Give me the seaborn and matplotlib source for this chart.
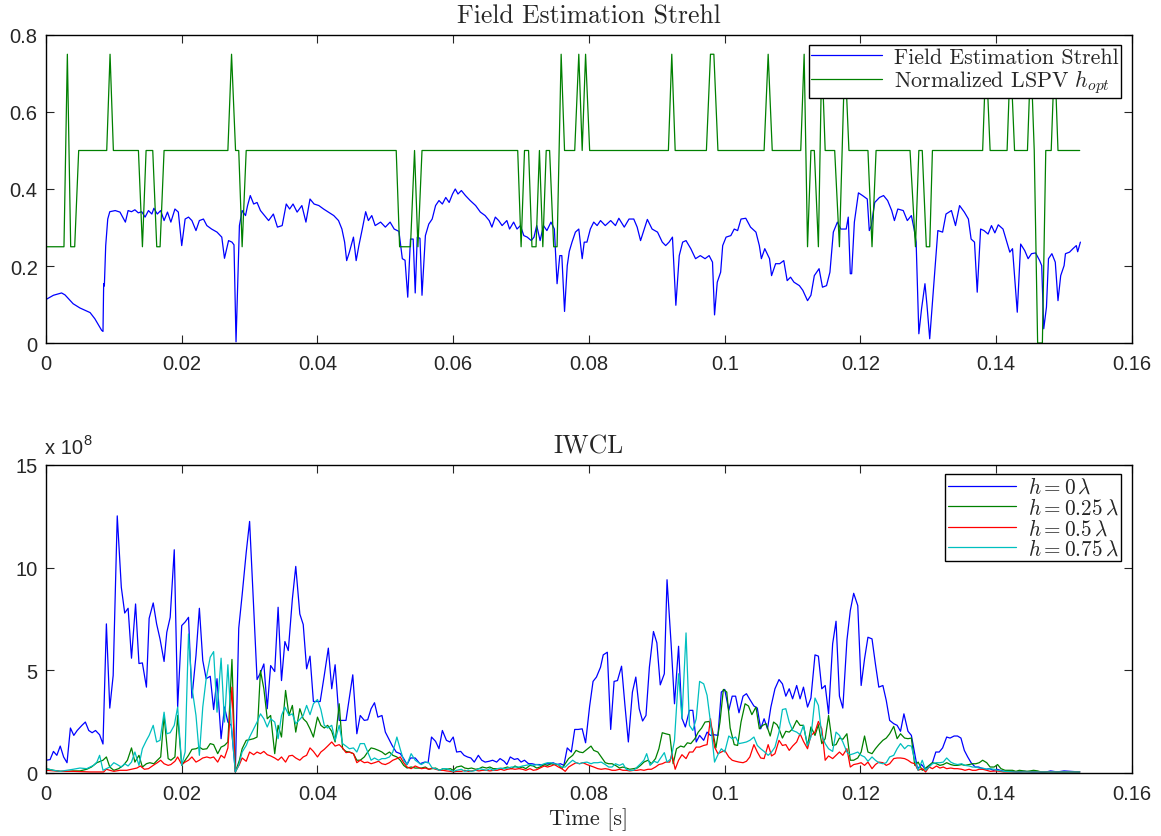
import numpy as np
import pandas as pd
import matplotlib
matplotlib.use("Agg")
import matplotlib.pyplot as plt
import seaborn as sns

# ---------------- top panel data ----------------
strehl_t = [0, 0.0011, 0.0023, 0.0028, 0.004, 0.005, 0.0065, 0.0072, 0.0082, 0.0084, 0.0085, 0.0086, 0.0088,
            0.0091, 0.0094, 0.0102, 0.0109, 0.0117, 0.0121, 0.0126, 0.0131, 0.0136, 0.0141, 0.0146, 0.0151,
            0.0156, 0.0159, 0.0164, 0.0169, 0.0174, 0.0179, 0.0184, 0.019, 0.0195, 0.02, 0.0205, 0.021, 0.0215,
            0.0221, 0.0226, 0.0232, 0.0237, 0.0244, 0.0252, 0.0259, 0.0263, 0.0269, 0.0274, 0.0277, 0.028,
            0.0285, 0.0289, 0.0294, 0.0297, 0.0301, 0.0306, 0.0311, 0.0316, 0.0322, 0.0328, 0.0335, 0.0341,
            0.0348, 0.0354, 0.0359, 0.0364, 0.037, 0.0377, 0.0383, 0.0389, 0.0395, 0.0402, 0.0409, 0.0416,
            0.0424, 0.0431, 0.0436, 0.044, 0.0443, 0.0447, 0.0453, 0.0457, 0.0461, 0.0466, 0.0471, 0.0475,
            0.048, 0.0485, 0.0493, 0.05, 0.0507, 0.0513, 0.052, 0.0525, 0.0529, 0.0533, 0.0537, 0.0541, 0.0544,
            0.0547, 0.0551, 0.0554, 0.0559, 0.0564, 0.0569, 0.0574, 0.0579, 0.0584, 0.0589, 0.0594, 0.0599,
            0.0603, 0.0607, 0.0612, 0.0618, 0.0625, 0.0633, 0.064, 0.0647, 0.0653, 0.0657, 0.0662, 0.0667,
            0.0672, 0.0679, 0.0683, 0.0689, 0.0694, 0.0699, 0.0704, 0.0709, 0.0715, 0.0719, 0.0723, 0.0728,
            0.0733, 0.0738, 0.0744, 0.0749, 0.0753, 0.0757, 0.076, 0.0764, 0.0768, 0.0771, 0.0775, 0.078,
            0.0785, 0.079, 0.0793, 0.0797, 0.0802, 0.0807, 0.0812, 0.0817, 0.0824, 0.0832, 0.0839, 0.0844,
            0.0852, 0.0859, 0.0866, 0.0871, 0.0876, 0.0886, 0.0893, 0.0901, 0.0908, 0.0913, 0.0918, 0.0923,
            0.0928, 0.0933, 0.0938, 0.0943, 0.095, 0.0957, 0.0964, 0.0971, 0.0977, 0.0982, 0.0985, 0.0989,
            0.0994, 0.0997, 0.1002, 0.1009, 0.1014, 0.1019, 0.1024, 0.1031, 0.1038, 0.1046, 0.1051, 0.1054,
            0.1059, 0.1066, 0.1069, 0.1075, 0.1081, 0.1087, 0.1092, 0.1097, 0.1102, 0.111, 0.1115, 0.1122,
            0.1127, 0.1132, 0.1139, 0.1144, 0.115, 0.1155, 0.116, 0.1166, 0.1171, 0.1179, 0.1182, 0.1185,
            0.1187, 0.1191, 0.1197, 0.1203, 0.121, 0.1213, 0.1216, 0.1221, 0.1228, 0.1234, 0.124, 0.1246,
            0.125, 0.1255, 0.1263, 0.1269, 0.1275, 0.1279, 0.1282, 0.1286, 0.129, 0.1295, 0.1298, 0.1302,
            0.1305, 0.1309, 0.1314, 0.1321, 0.1326, 0.1334, 0.134, 0.1346, 0.1353, 0.1359, 0.1363, 0.1368,
            0.1372, 0.1377, 0.1382, 0.1388, 0.1393, 0.1398, 0.1403, 0.141, 0.1415, 0.142, 0.1424, 0.1431,
            0.1436, 0.1442, 0.1447, 0.1452, 0.1458, 0.1464, 0.1467, 0.147, 0.1474, 0.1477, 0.1482, 0.1487,
            0.1491, 0.1495, 0.15, 0.1502, 0.1508, 0.1513, 0.1518, 0.152, 0.1524]
strehl_v = [0.113, 0.124, 0.13, 0.125, 0.102, 0.091, 0.079, 0.063, 0.033, 0.03, 0.154, 0.148, 0.253,
            0.322, 0.341, 0.344, 0.34, 0.314, 0.344, 0.341, 0.346, 0.338, 0.341, 0.327, 0.344,
            0.335, 0.35, 0.335, 0.344, 0.318, 0.34, 0.314, 0.348, 0.34, 0.253, 0.322, 0.327, 0.318,
            0.292, 0.318, 0.322, 0.305, 0.296, 0.288, 0.275, 0.22, 0.266, 0.262, 0.255, 0.003,
            0.305, 0.344, 0.331, 0.357, 0.383, 0.361, 0.365, 0.344, 0.331, 0.318, 0.335, 0.301,
            0.305, 0.361, 0.348, 0.361, 0.34, 0.357, 0.314, 0.374, 0.361, 0.357, 0.348, 0.34,
            0.331, 0.318, 0.296, 0.262, 0.214, 0.236, 0.275, 0.214, 0.253, 0.296, 0.341, 0.318,
            0.331, 0.305, 0.314, 0.301, 0.314, 0.296, 0.29, 0.219, 0.215, 0.119, 0.27, 0.27, 0.13,
            0.275, 0.272, 0.124, 0.279, 0.309, 0.322, 0.357, 0.37, 0.361, 0.378, 0.365, 0.387,
            0.4, 0.387, 0.396, 0.383, 0.37, 0.357, 0.34, 0.331, 0.318, 0.301, 0.327, 0.318,
            0.305, 0.318, 0.296, 0.314, 0.296, 0.305, 0.279, 0.275, 0.266, 0.275, 0.305, 0.266,
            0.305, 0.292, 0.314, 0.296, 0.154, 0.227, 0.227, 0.082, 0.201, 0.238, 0.262, 0.288,
            0.296, 0.219, 0.262, 0.262, 0.296, 0.314, 0.305, 0.318, 0.305, 0.318, 0.305, 0.324,
            0.301, 0.322, 0.322, 0.301, 0.266, 0.321, 0.296, 0.288, 0.262, 0.253, 0.262, 0.275,
            0.098, 0.227, 0.262, 0.266, 0.245, 0.219, 0.227, 0.219, 0.227, 0.21, 0.073, 0.158,
            0.184, 0.253, 0.275, 0.279, 0.296, 0.292, 0.322, 0.324, 0.301, 0.288, 0.253, 0.219,
            0.245, 0.219, 0.175, 0.206, 0.206, 0.214, 0.162, 0.171, 0.158, 0.149, 0.137, 0.11,
            0.124, 0.175, 0.193, 0.145, 0.149, 0.184, 0.288, 0.314, 0.296, 0.296, 0.327, 0.18,
            0.18, 0.314, 0.39, 0.383, 0.374, 0.292, 0.305, 0.365, 0.378, 0.383, 0.37, 0.344,
            0.318, 0.348, 0.344, 0.318, 0.331, 0.296, 0.262, 0.024, 0.089, 0.154, 0.098, 0.011,
            0.08, 0.175, 0.292, 0.288, 0.335, 0.344, 0.305, 0.357, 0.34, 0.322, 0.27, 0.262,
            0.132, 0.296, 0.292, 0.283, 0.305, 0.286, 0.307, 0.296, 0.266, 0.236, 0.245, 0.08,
            0.257, 0.24, 0.219, 0.232, 0.234, 0.214, 0.201, 0.037, 0.093, 0.219, 0.232, 0.21,
            0.11, 0.175, 0.201, 0.232, 0.236, 0.245, 0.253, 0.237, 0.262]

hopt_t = [0, 0.00265, 0.00315, 0.00364, 0.00423, 0.00482, 0.00895, 0.00944, 0.00993, 0.01362, 0.01421,
          0.01475, 0.01573, 0.01632, 0.01681, 0.0174, 0.0268, 0.02734, 0.02793, 0.0284, 0.0289, 0.0295,
          0.0516, 0.0521, 0.0537, 0.0543, 0.0548, 0.0554, 0.0695, 0.07, 0.0705, 0.0711, 0.0716, 0.0722,
          0.0727, 0.0732, 0.0737, 0.0742, 0.0748, 0.0753, 0.0759, 0.0764, 0.0779, 0.0785, 0.079, 0.0795,
          0.0801, 0.0917, 0.0922, 0.0927, 0.0973, 0.0979, 0.0984, 0.099, 0.1058, 0.1064, 0.107, 0.1112,
          0.1117, 0.1122, 0.1127, 0.1132, 0.1138, 0.1143, 0.1148, 0.1162, 0.1169, 0.1177, 0.1183, 0.1211,
          0.1217, 0.1223, 0.1273, 0.1281, 0.1286, 0.1291, 0.1297, 0.1302, 0.1306, 0.138, 0.1385, 0.1391,
          0.1416, 0.1421, 0.1427, 0.1446, 0.1451, 0.1456, 0.1461, 0.1468, 0.1473, 0.1481, 0.1486, 0.1491,
          0.1523]
hopt_v = [0.25, 0.25, 0.75, 0.25, 0.25, 0.5, 0.5, 0.75, 0.5, 0.5, 0.25,
          0.5, 0.5, 0.25, 0.25, 0.5, 0.5, 0.75, 0.5, 0.5, 0.25, 0.5,
          0.5, 0.25, 0.25, 0.5, 0.25, 0.5, 0.5, 0.25, 0.5, 0.5, 0.25, 0.25,
          0.5, 0.25, 0.5, 0.5, 0.25, 0.25, 0.75, 0.5, 0.5, 0.75, 0.5, 0.75,
          0.5, 0.5, 0.75, 0.5, 0.5, 0.75, 0.75, 0.5, 0.5, 0.75, 0.5, 0.5,
          0.75, 0.25, 0.5, 0.5, 0.25, 0.75, 0.5, 0.5, 0.25, 0.75, 0.5, 0.5,
          0.25, 0.5, 0.5, 0.25, 0.5, 0.5, 0.25, 0.25, 0.5, 0.5, 0.75, 0.5,
          0.5, 0.75, 0.5, 0.5, 0.75, 0.5, 0.0, 0.0, 0.5, 0.5, 0.75, 0.5,
          0.5]

# ---------------- bottom panel data (IWCL, units of 1e8) ----------------
h0_t = [0, 0.0006, 0.0011, 0.0016, 0.0021, 0.0026, 0.0031, 0.0036, 0.0041, 0.0046, 0.0053, 0.0058, 0.0063,
        0.0068, 0.0073, 0.0079, 0.0084, 0.0089, 0.0094, 0.0099, 0.0105, 0.0111, 0.0116, 0.0121, 0.0126,
        0.0132, 0.0137, 0.0142, 0.0148, 0.0152, 0.0158, 0.0163, 0.0168, 0.0174, 0.0178, 0.0183, 0.0189,
        0.0194, 0.02, 0.0205, 0.021, 0.0215, 0.0221, 0.0226, 0.0231, 0.0236, 0.0242, 0.0247, 0.0252,
        0.0258, 0.0263, 0.0268, 0.0273, 0.0279, 0.0284, 0.0289, 0.0295, 0.03, 0.0305, 0.0311, 0.0316,
        0.0321, 0.0326, 0.0331, 0.0337, 0.0342, 0.0347, 0.0352, 0.0357, 0.0363, 0.0368, 0.0374, 0.0379,
        0.0384, 0.0389, 0.0394, 0.0404, 0.041, 0.0416, 0.0421, 0.0426, 0.0432, 0.0442, 0.0452, 0.0458,
        0.0463, 0.0469, 0.0474, 0.0479, 0.0484, 0.0489, 0.0495, 0.05, 0.0505, 0.051, 0.0516, 0.0522,
        0.0527, 0.0532, 0.0537, 0.0544, 0.0551, 0.0558, 0.0563, 0.0568, 0.0574, 0.0579, 0.0584, 0.059,
        0.0595, 0.06, 0.0605, 0.0611, 0.0616, 0.0621, 0.0626, 0.0631, 0.0637, 0.0642, 0.0647, 0.0653,
        0.0658, 0.0664, 0.0669, 0.0675, 0.0679, 0.0684, 0.069, 0.0695, 0.07, 0.0705, 0.0711, 0.0716,
        0.0721, 0.0727, 0.0732, 0.0737, 0.0743, 0.0747, 0.0753, 0.0758, 0.0763, 0.0768, 0.0774, 0.0779,
        0.0784, 0.079, 0.0795, 0.0801, 0.0806, 0.0811, 0.0817, 0.0821, 0.0827, 0.0832, 0.0837, 0.0842,
        0.0848, 0.0853, 0.0858, 0.0864, 0.0869, 0.0874, 0.0879, 0.0884, 0.0889, 0.0895, 0.09, 0.0905,
        0.0911, 0.0915, 0.0921, 0.0926, 0.0932, 0.0937, 0.0942, 0.0948, 0.0953, 0.0958, 0.0963, 0.0969,
        0.0974, 0.0979, 0.0985, 0.099, 0.0995, 0.1, 0.1006, 0.1011, 0.1016, 0.1021, 0.1027, 0.1032,
        0.1037, 0.1043, 0.1048, 0.1053, 0.1058, 0.1063, 0.1068, 0.1074, 0.108, 0.1085, 0.109, 0.1095,
        0.11, 0.1106, 0.1111, 0.1116, 0.1122, 0.1127, 0.1133, 0.1138, 0.1143, 0.1148, 0.1153, 0.1159,
        0.1164, 0.1169, 0.1174, 0.118, 0.1185, 0.119, 0.1196, 0.1201, 0.1206, 0.1211, 0.1217, 0.1222,
        0.1227, 0.1233, 0.1238, 0.1243, 0.1249, 0.1254, 0.1259, 0.1264, 0.127, 0.1275, 0.128, 0.1284,
        0.129, 0.1295, 0.13, 0.1306, 0.1311, 0.1316, 0.1321, 0.1327, 0.1332, 0.1338, 0.1343, 0.1348,
        0.1353, 0.1358, 0.1363, 0.1369, 0.1374, 0.138, 0.1385, 0.139, 0.1396, 0.1401, 0.1406, 0.1412,
        0.1422, 0.1432, 0.1442, 0.1452, 0.1461, 0.147, 0.148, 0.149, 0.15, 0.151, 0.1523]
h0_v = [0.62, 0.65, 1.05, 0.86, 1.31, 0.78, 0.5, 2.19, 1.83, 2.07, 2.32, 2.48, 2.07,
        1.96, 2.07, 1.86, 1.41, 7.26, 3.16, 4.75, 12.52, 9.04, 7.79, 8.02, 5.59,
        8.23, 5.33, 5.36, 4.18, 7.53, 8.28, 7.26, 6.53, 5.43, 6.85, 7.58, 10.87,
        3.21, 7.18, 7.35, 7.58, 3.65, 5.72, 8.02, 5.48, 4.59, 4.71, 3.09, 4.59,
        1.67, 3.21, 2.48, 2.32, 0.05, 7.05, 8.67, 10.74, 12.25, 8.72, 4.55, 4.88,
        5.31, 3.13, 5.23, 4.94, 8.07, 4.5, 6.4, 5.96, 8.47, 10.06, 7.74, 7.23,
        5.07, 5.69, 3.48, 3.48, 4.75, 6.08, 4.1, 5.27, 2.56, 2.56, 4.78, 1.91,
        2.8, 2.56, 2.59, 3.13, 3.42, 2.72, 2.8, 1.99, 1.67, 1.34, 1.02, 0.94,
        0.7, 0.41, 0.73, 0.73, 0.45, 0.53, 0.5, 1.75, 1.54, 1.18, 2.07, 1.59,
        1.51, 1.75, 1.02, 1.05, 0.86, 0.78, 0.73, 0.53, 0.86, 0.62, 0.53, 0.57,
        0.62, 0.53, 0.7, 0.57, 0.41, 0.78, 0.66, 0.7, 0.53, 0.62, 0.45, 0.45,
        0.41, 0.41, 0.37, 0.45, 0.45, 0.5, 0.41, 0.45, 0.37, 1.22, 1.02, 2.12,
        2.12, 2.15, 1.47, 3.26, 4.46, 4.67, 5.15, 5.75, 5.88, 2.12, 4.46, 4.5,
        5.2, 3.29, 1.51, 3.94, 4.67, 3.13, 2.53, 2.8, 5.15, 6.89, 6.34, 4.29,
        4.83, 9.41, 6.29, 3.37, 6.17, 2.67, 2.24, 3.05, 3.05, 1.51, 1.83, 1.59,
        1.99, 1.83, 1.86, 1.83, 3.94, 4.07, 3.05, 3.74, 3.74, 2.93, 3.74, 3.86,
        3.58, 3.26, 3.16, 2.15, 2.64, 2.15, 3.21, 4.1, 4.55, 4.34, 3.74, 4.1,
        3.61, 4.26, 3.61, 4.18, 3.21, 3.65, 5.75, 5.69, 4.1, 4.26, 2.88, 6.29,
        7.39, 3.74, 3.16, 6.45, 7.91, 8.75, 8.15, 4.26, 5.56, 6.61, 6.53, 5.31,
        4.18, 4.26, 3.53, 2.56, 2.4, 2.32, 2.03, 2.88, 2.03, 1.83, 0.94, 0.21,
        0.41, 0.21, 0.29, 0.5, 1.02, 1.02, 1.22, 1.75, 1.7, 1.8, 1.8, 1.7,
        1.1, 0.78, 0.5, 0.29, 0.29, 0.21, 0.18, 0.21, 0.13, 0.18, 0.13, 0.08,
        0.08, 0.05, 0.08, 0.05, 0.05, 0.02, 0.1, 0.05, 0.1, 0.08, 0.05]

h025_t = [0, 0.0011, 0.0021, 0.0031, 0.004, 0.005, 0.006, 0.0067, 0.0075, 0.0084, 0.0089, 0.0094, 0.01,
          0.0107, 0.0114, 0.012, 0.0126, 0.0131, 0.0137, 0.0142, 0.0148, 0.0153, 0.0159, 0.0164, 0.0169,
          0.0174, 0.018, 0.0184, 0.019, 0.0194, 0.02, 0.0205, 0.021, 0.0215, 0.0221, 0.0226, 0.0231,
          0.0237, 0.0242, 0.0247, 0.0253, 0.0258, 0.0263, 0.0268, 0.0274, 0.0279, 0.0285, 0.0289, 0.0295,
          0.03, 0.0306, 0.0311, 0.0316, 0.0321, 0.0326, 0.0331, 0.0337, 0.0342, 0.0347, 0.0353, 0.0358,
          0.0363, 0.0368, 0.0374, 0.0379, 0.0384, 0.0389, 0.0394, 0.04, 0.0405, 0.041, 0.0415, 0.0421,
          0.0426, 0.0432, 0.0437, 0.0442, 0.0447, 0.0453, 0.0458, 0.0463, 0.0469, 0.0474, 0.0479, 0.0484,
          0.049, 0.0495, 0.05, 0.0506, 0.0511, 0.0517, 0.0522, 0.0527, 0.0532, 0.0538, 0.0544, 0.0553,
          0.0559, 0.0564, 0.0569, 0.0574, 0.058, 0.0585, 0.059, 0.0596, 0.06, 0.0605, 0.0612, 0.0617,
          0.0622, 0.0627, 0.0633, 0.0638, 0.0643, 0.0649, 0.0654, 0.0659, 0.0665, 0.067, 0.0675, 0.068,
          0.0686, 0.0691, 0.0697, 0.0702, 0.0707, 0.0713, 0.0718, 0.0723, 0.0728, 0.0734, 0.0739, 0.0744,
          0.0749, 0.0755, 0.076, 0.0765, 0.077, 0.0776, 0.0781, 0.0786, 0.0791, 0.0797, 0.0803, 0.0807,
          0.0813, 0.0818, 0.0824, 0.0829, 0.0834, 0.0839, 0.0845, 0.085, 0.0855, 0.086, 0.0866, 0.0871,
          0.0876, 0.0881, 0.0887, 0.0892, 0.0898, 0.0903, 0.0908, 0.0913, 0.0919, 0.0924, 0.0929, 0.0935,
          0.094, 0.0945, 0.095, 0.0956, 0.0961, 0.0966, 0.0971, 0.0977, 0.0982, 0.0987, 0.0993, 0.0998,
          0.1003, 0.1008, 0.1014, 0.1019, 0.1024, 0.103, 0.1035, 0.104, 0.1046, 0.1051, 0.1056, 0.1061,
          0.1067, 0.1072, 0.1077, 0.108, 0.1085, 0.109, 0.1095, 0.11, 0.1106, 0.1111, 0.1116, 0.1122,
          0.1127, 0.1133, 0.1138, 0.1143, 0.1148, 0.1153, 0.1159, 0.1164, 0.1169, 0.1174, 0.118, 0.1185,
          0.119, 0.1196, 0.1201, 0.1206, 0.1211, 0.1217, 0.1222, 0.1227, 0.1233, 0.1238, 0.1243, 0.1249,
          0.1254, 0.1259, 0.1265, 0.127, 0.1275, 0.128, 0.1285, 0.1291, 0.1296, 0.1301, 0.1306, 0.1312,
          0.1317, 0.1322, 0.1327, 0.1333, 0.1338, 0.1343, 0.1349, 0.1354, 0.136, 0.1365, 0.137, 0.1375,
          0.138, 0.1386, 0.1391, 0.1397, 0.1402, 0.1407, 0.1413, 0.1418, 0.1424, 0.1429, 0.1434, 0.144,
          0.1445, 0.145, 0.1455, 0.1461, 0.1466, 0.1473, 0.1523]
h025_v = [0.21, 0.13, 0.08, 0.08, 0.1, 0.1, 0.18, 0.29, 0.5, 0.62, 0.78, 0.29, 0.13,
          0.21, 0.37, 0.62, 1.22, 0.53, 0.86, 0.29, 0.45, 0.5, 0.45, 0.62, 0.78,
          2.8, 0.7, 0.62, 0.78, 2.8, 0.37, 0.62, 0.86, 1.15, 1.18, 1.26, 1.15,
          1.18, 1.43, 1.38, 0.94, 1.26, 1.34, 1.51, 5.53, 0.05, 0.62, 1.18, 1.59,
          1.62, 1.67, 1.75, 4.99, 4.1, 2.64, 2.8, 0.94, 2.32, 1.75, 4.02, 2.8,
          3.29, 1.99, 3.13, 2.64, 2.48, 2.15, 1.75, 2.72, 2.32, 2.19, 2.32, 2.03,
          1.51, 3.37, 1.18, 1.05, 1.02, 0.94, 0.62, 0.62, 0.78, 1.02, 1.22, 1.18,
          1.1, 1.02, 0.89, 1.02, 0.86, 0.78, 0.62, 0.37, 0.24, 0.29, 0.24, 0.24,
          0.29, 0.18, 0.21, 0.24, 0.13, 0.21, 0.18, 0.21, 0.13, 0.29, 0.34, 0.24,
          0.21, 0.24, 0.18, 0.21, 0.29, 0.24, 0.29, 0.21, 0.21, 0.18, 0.24, 0.29,
          0.21, 0.34, 0.24, 0.29, 0.21, 0.37, 0.34, 0.24, 0.29, 0.41, 0.37, 0.45,
          0.41, 0.41, 0.21, 0.45, 0.7, 0.86, 1.1, 1.02, 0.99, 1.15, 1.31, 1.1,
          1.02, 0.78, 0.5, 0.45, 0.45, 0.37, 0.24, 0.29, 0.24, 0.18, 0.21, 0.24,
          0.37, 0.53, 0.62, 0.45, 0.7, 1.18, 1.96, 1.91, 1.86, 0.45, 1.18, 1.31,
          1.26, 1.47, 1.43, 1.67, 1.99, 2.19, 2.48, 2.51, 2.07, 1.22, 2.48, 4.07,
          3.94, 2.19, 1.38, 1.34, 2.48, 3.37, 3.26, 2.84, 3.21, 2.15, 2.32, 2.4,
          1.8, 2.48, 2.35, 2.15, 1.7, 2.03, 1.99, 2.15, 2.56, 2.32, 2.32, 1.31,
          2.24, 1.83, 2.35, 1.43, 1.67, 2.8, 1.34, 1.38, 1.7, 1.64, 1.91, 0.62,
          0.62, 0.73, 1.02, 1.8, 1.02, 0.94, 1.18, 1.38, 1.59, 1.7, 1.91, 2.27,
          1.67, 1.91, 1.7, 1.67, 1.7, 0.37, 0.53, 0.13, 0.24, 0.37, 0.5, 0.45,
          0.37, 0.41, 0.5, 0.41, 0.37, 0.37, 0.41, 0.37, 0.41, 0.45, 0.45, 0.5,
          0.62, 0.5, 0.29, 0.29, 0.41, 0.21, 0.13, 0.13, 0.13, 0.08, 0.13, 0.1,
          0.08, 0.1, 0.13, 0.1, 0.05, 0.05, 0.05]

h05_t = [0, 0.0021, 0.004, 0.0065, 0.0085, 0.0089, 0.0094, 0.01, 0.0109, 0.0119, 0.0126, 0.0134, 0.0139,
         0.0145, 0.0151, 0.0158, 0.0164, 0.0169, 0.0174, 0.018, 0.0184, 0.019, 0.0194, 0.02, 0.0205,
         0.021, 0.0215, 0.0221, 0.0226, 0.0231, 0.0237, 0.0242, 0.0247, 0.0253, 0.0258, 0.0263, 0.0268,
         0.0274, 0.0279, 0.0285, 0.0289, 0.0295, 0.03, 0.0306, 0.0311, 0.0316, 0.0321, 0.0326, 0.0331,
         0.0337, 0.0342, 0.0347, 0.0353, 0.0358, 0.0363, 0.0368, 0.0374, 0.0379, 0.0384, 0.0389, 0.0394,
         0.04, 0.0405, 0.041, 0.0415, 0.0421, 0.0426, 0.0432, 0.0437, 0.0442, 0.0447, 0.0453, 0.0458,
         0.0463, 0.0469, 0.0474, 0.0479, 0.0484, 0.049, 0.0495, 0.05, 0.0506, 0.0511, 0.0517, 0.0522,
         0.0527, 0.0532, 0.0538, 0.0544, 0.0553, 0.0559, 0.0564, 0.0569, 0.0574, 0.058, 0.0585, 0.059,
         0.0596, 0.06, 0.0605, 0.0612, 0.0617, 0.0622, 0.0627, 0.0633, 0.0638, 0.0643, 0.0649, 0.0654,
         0.0659, 0.0665, 0.067, 0.0675, 0.068, 0.0686, 0.0691, 0.0697, 0.0702, 0.0707, 0.0713, 0.0718,
         0.0723, 0.0728, 0.0734, 0.0739, 0.0744, 0.0749, 0.0755, 0.076, 0.0765, 0.077, 0.0776, 0.0781,
         0.0786, 0.0791, 0.0797, 0.0803, 0.0807, 0.0813, 0.0818, 0.0824, 0.0829, 0.0834, 0.0839, 0.0845,
         0.085, 0.0855, 0.086, 0.0866, 0.0871, 0.0876, 0.0881, 0.0887, 0.0892, 0.0898, 0.0903, 0.0908,
         0.0913, 0.0919, 0.0922, 0.0927, 0.0932, 0.0937, 0.0943, 0.0948, 0.0953, 0.0958, 0.0963, 0.0969,
         0.0974, 0.0979, 0.0985, 0.099, 0.0995, 0.1, 0.1006, 0.1011, 0.1016, 0.1021, 0.1027, 0.1032,
         0.1037, 0.1043, 0.1048, 0.1053, 0.1058, 0.1064, 0.1069, 0.1074, 0.108, 0.1085, 0.109, 0.1095,
         0.11, 0.1106, 0.1111, 0.1116, 0.1122, 0.1127, 0.1133, 0.1138, 0.1143, 0.1148, 0.1153, 0.1159,
         0.1164, 0.1169, 0.1174, 0.118, 0.1185, 0.119, 0.1196, 0.1201, 0.1206, 0.1211, 0.1217, 0.1222,
         0.1227, 0.1233, 0.1238, 0.1243, 0.1249, 0.1254, 0.1259, 0.1265, 0.127, 0.1275, 0.128, 0.1285,
         0.1291, 0.1296, 0.1301, 0.1306, 0.1312, 0.1317, 0.1322, 0.1327, 0.1333, 0.1338, 0.1343, 0.1349,
         0.1354, 0.136, 0.1365, 0.137, 0.1375, 0.138, 0.1386, 0.1391, 0.1401, 0.1411, 0.1436, 0.1461,
         0.1485, 0.1523]
h05_v = [0.13, 0.08, 0.08, 0.05, 0.05, 0.18, 0.13, 0.08, 0.13, 0.13, 0.18, 0.24, 0.34,
         0.18, 0.21, 0.37, 0.5, 0.62, 0.45, 0.37, 0.41, 0.57, 0.78, 0.41, 0.53,
         0.62, 0.78, 0.53, 0.62, 0.73, 0.78, 0.73, 0.78, 0.53, 0.86, 0.73, 1.22,
         4.18, 0.05, 0.41, 0.73, 0.57, 1.02, 0.89, 1.02, 0.94, 1.05, 0.89, 0.83,
         0.73, 0.62, 0.78, 0.53, 0.83, 0.86, 0.73, 0.62, 0.78, 0.86, 1.22, 1.05,
         0.78, 1.02, 1.15, 1.31, 1.51, 1.31, 1.38, 1.22, 0.99, 1.02, 0.94, 0.5,
         0.62, 0.5, 0.53, 0.45, 0.5, 0.57, 0.45, 0.41, 0.5, 0.62, 0.7, 0.78,
         0.5, 0.29, 0.21, 0.34, 0.21, 0.24, 0.18, 0.24, 0.18, 0.13, 0.13, 0.1,
         0.08, 0.05, 0.08, 0.08, 0.13, 0.08, 0.1, 0.13, 0.1, 0.13, 0.13, 0.1,
         0.13, 0.13, 0.18, 0.13, 0.18, 0.21, 0.18, 0.21, 0.18, 0.13, 0.21, 0.13,
         0.16, 0.24, 0.34, 0.29, 0.34, 0.41, 0.29, 0.21, 0.08, 0.29, 0.41, 0.5,
         0.45, 0.5, 0.41, 0.34, 0.29, 0.21, 0.18, 0.21, 0.18, 0.13, 0.13, 0.18,
         0.13, 0.13, 0.1, 0.13, 0.13, 0.16, 0.13, 0.18, 0.18, 0.29, 0.41, 0.45,
         0.53, 0.53, 0.94, 0.18, 0.62, 0.89, 0.7, 1.02, 1.02, 1.26, 1.26, 1.34,
         1.38, 2.64, 1.26, 0.94, 1.02, 1.1, 0.78, 0.62, 0.57, 0.53, 0.5, 0.57,
         0.78, 1.38, 1.02, 0.73, 0.7, 1.38, 0.83, 0.94, 1.59, 1.34, 1.38, 1.1,
         1.31, 1.51, 1.91, 1.54, 1.18, 1.83, 1.99, 2.51, 2.15, 0.62, 0.83, 0.7,
         0.86, 1.02, 0.86, 1.18, 0.29, 0.41, 0.45, 0.5, 0.37, 0.53, 0.21, 0.41,
         0.53, 0.5, 0.37, 0.45, 0.7, 0.73, 0.73, 0.7, 0.62, 0.5, 0.45, 0.13,
         0.21, 0.05, 0.29, 0.21, 0.34, 0.24, 0.29, 0.21, 0.24, 0.21, 0.21, 0.18,
         0.13, 0.18, 0.13, 0.13, 0.18, 0.18, 0.13, 0.08, 0.1, 0.05, 0.05, 0.05,
         0.05, 0.05]

h075_t = [0, 0.0011, 0.0021, 0.0031, 0.004, 0.005, 0.006, 0.007, 0.0075, 0.0079, 0.0084, 0.0089, 0.0094,
          0.01, 0.0105, 0.0111, 0.0116, 0.0121, 0.0126, 0.0131, 0.0137, 0.0142, 0.0148, 0.0152, 0.0158,
          0.0163, 0.0168, 0.0174, 0.0178, 0.0183, 0.0189, 0.0194, 0.02, 0.0205, 0.021, 0.0215, 0.0221,
          0.0226, 0.0231, 0.0236, 0.0242, 0.0247, 0.0252, 0.0258, 0.0263, 0.0268, 0.0273, 0.0279, 0.0284,
          0.0289, 0.0295, 0.03, 0.0306, 0.0311, 0.0316, 0.0321, 0.0326, 0.0331, 0.0337, 0.0342, 0.0347,
          0.0352, 0.0358, 0.0363, 0.0368, 0.0374, 0.0379, 0.0384, 0.0389, 0.0394, 0.04, 0.0405, 0.041,
          0.0415, 0.0421, 0.0426, 0.0432, 0.0437, 0.0442, 0.0447, 0.0453, 0.0458, 0.0463, 0.0469, 0.0474,
          0.0479, 0.0484, 0.049, 0.0495, 0.05, 0.0506, 0.0511, 0.0517, 0.0522, 0.0527, 0.0532, 0.0538,
          0.0544, 0.0553, 0.0559, 0.0564, 0.0569, 0.0574, 0.058, 0.0585, 0.059, 0.0596, 0.06, 0.0605,
          0.0612, 0.0617, 0.0622, 0.0627, 0.0633, 0.0638, 0.0643, 0.0649, 0.0654, 0.0659, 0.0665, 0.067,
          0.0675, 0.068, 0.0686, 0.0691, 0.0697, 0.0702, 0.0707, 0.0713, 0.0718, 0.0723, 0.0728, 0.0734,
          0.0739, 0.0744, 0.0749, 0.0755, 0.076, 0.0765, 0.077, 0.0776, 0.0781, 0.0786, 0.0791, 0.0797,
          0.0803, 0.0807, 0.0813, 0.0818, 0.0824, 0.0829, 0.0834, 0.0839, 0.0845, 0.085, 0.0855, 0.086,
          0.0866, 0.0871, 0.0876, 0.0881, 0.0885, 0.089, 0.0896, 0.0901, 0.0905, 0.0911, 0.0915, 0.0921,
          0.0926, 0.0932, 0.0937, 0.0943, 0.0948, 0.0953, 0.0958, 0.0963, 0.0969, 0.0974, 0.0979, 0.0985,
          0.099, 0.0995, 0.1, 0.1006, 0.1011, 0.1016, 0.1021, 0.1027, 0.1032, 0.1037, 0.1043, 0.1048,
          0.1053, 0.1058, 0.1064, 0.1069, 0.1074, 0.108, 0.1085, 0.109, 0.1095, 0.11, 0.1106, 0.1111,
          0.1116, 0.1122, 0.1127, 0.1133, 0.1138, 0.1143, 0.1148, 0.1153, 0.1159, 0.1164, 0.1169, 0.1174,
          0.118, 0.1185, 0.119, 0.1196, 0.1201, 0.1206, 0.1211, 0.1217, 0.1222, 0.1227, 0.1233, 0.1238,
          0.1243, 0.1249, 0.1254, 0.1259, 0.1265, 0.127, 0.1275, 0.128, 0.1285, 0.1291, 0.1296, 0.1301,
          0.1306, 0.1312, 0.1317, 0.1322, 0.1327, 0.1333, 0.1338, 0.1343, 0.1349, 0.1354, 0.136, 0.1365,
          0.137, 0.1375, 0.138, 0.1386, 0.1391, 0.1397, 0.1402, 0.1411, 0.1426, 0.1446, 0.147, 0.1523]
h075_v = [0.21, 0.13, 0.08, 0.13, 0.18, 0.24, 0.21, 0.37, 0.53, 0.86, 0.13, 0.21, 0.29,
          0.5, 0.41, 0.29, 0.45, 0.34, 0.53, 1.02, 0.37, 1.18, 1.59, 1.83, 2.32,
          1.51, 1.59, 2.96, 1.91, 1.96, 2.32, 3.21, 0.37, 1.02, 6.77, 4.18, 2.8,
          0.86, 3.21, 4.59, 5.64, 5.91, 2.96, 5.59, 2.48, 5.27, 2.32, 0.05, 0.37,
          1.02, 1.34, 1.75, 2.15, 2.48, 2.88, 2.64, 2.24, 2.64, 2.48, 1.67, 2.8,
          3.21, 2.8, 2.88, 2.4, 2.61, 2.8, 3.29, 2.84, 3.37, 3.58, 3.09, 2.32,
          2.19, 2.32, 1.59, 2.32, 1.43, 1.31, 1.18, 1.22, 1.02, 1.43, 1.43, 1.02,
          0.62, 0.73, 0.62, 0.7, 0.7, 0.78, 1.02, 1.75, 1.15, 0.62, 0.41, 0.94,
          0.62, 0.41, 0.53, 0.5, 0.24, 0.21, 0.13, 0.21, 0.21, 0.13, 0.08, 0.13,
          0.18, 0.08, 0.13, 0.08, 0.13, 0.21, 0.18, 0.13, 0.21, 0.13, 0.21, 0.24,
          0.21, 0.24, 0.29, 0.29, 0.29, 0.34, 0.37, 0.41, 0.37, 0.41, 0.37, 0.45,
          0.5, 0.5, 0.45, 0.41, 0.29, 0.29, 0.45, 0.62, 0.5, 0.45, 0.5, 0.53,
          0.45, 0.5, 0.5, 0.53, 0.41, 0.29, 0.29, 0.45, 0.37, 0.45, 0.18, 0.13,
          0.13, 0.29, 0.45, 0.62, 0.94, 0.37, 0.57, 0.5, 0.7, 0.99, 0.53, 0.7,
          1.59, 4.83, 2.64, 6.82, 2.32, 2.07, 2.64, 4.46, 4.34, 3.78, 2.48, 0.53,
          0.89, 1.18, 1.02, 1.8, 1.67, 1.75, 1.43, 1.47, 1.51, 1.59, 1.75, 1.34,
          1.18, 1.05, 0.86, 1.02, 1.26, 1.99, 3.09, 3.13, 2.48, 2.07, 1.99, 1.86,
          2.32, 1.34, 1.75, 3.65, 3.29, 1.83, 1.43, 1.18, 1.05, 1.99, 1.83, 1.51,
          1.02, 0.89, 0.94, 1.02, 0.86, 0.78, 0.57, 0.78, 0.62, 0.5, 0.45, 0.5,
          0.78, 0.86, 1.18, 1.43, 1.18, 1.34, 1.31, 0.62, 0.13, 0.62, 0.13, 0.29,
          0.45, 0.5, 0.5, 0.53, 0.73, 0.53, 0.45, 0.41, 0.45, 0.37, 0.34, 0.29,
          0.29, 0.24, 0.24, 0.18, 0.21, 0.18, 0.13, 0.08, 0.05, 0.05, 0.05, 0.05]

top_labels = ["Field Estimation Strehl", "Normalized LSPV $h_{opt}$"]
bottom_labels = [r"$h = 0\,\lambda$", r"$h = 0.25\,\lambda$", r"$h = 0.5\,\lambda$", r"$h = 0.75\,\lambda$"]

top_df = pd.concat([
    pd.DataFrame({"time": strehl_t, "value": strehl_v, "series": top_labels[0]}),
    pd.DataFrame({"time": hopt_t, "value": hopt_v, "series": top_labels[1]}),
], ignore_index=True)

bottom_df = pd.concat([
    pd.DataFrame({"time": t, "value": v, "series": lab})
    for t, v, lab in zip([h0_t, h025_t, h05_t, h075_t], [h0_v, h025_v, h05_v, h075_v], bottom_labels)
], ignore_index=True)

# ---------------- style ----------------
sns.set_style("ticks")
plt.rcParams["font.family"] = ["Liberation Sans", "DejaVu Sans"]
plt.rcParams["mathtext.fontset"] = "cm"

serif = "cmr10"
tick_size = 14.5

fig = plt.figure(figsize=(11.61, 8.37), dpi=100)
ax1 = fig.add_axes([0.0396, 0.589, 0.9354, 0.368])
ax2 = fig.add_axes([0.0396, 0.0753, 0.9354, 0.368])

sns.lineplot(data=top_df, x="time", y="value", hue="series", palette=["#0000ff", "#008000"],
             estimator=None, sort=False, linewidth=0.9, ax=ax1)
sns.lineplot(data=bottom_df, x="time", y="value", hue="series",
             palette=["#0000ff", "#008000", "#ff0000", "#00bfbf"],
             estimator=None, sort=False, linewidth=0.9, ax=ax2)

for ax in (ax1, ax2):
    ax.set_xlim(0, 0.16)
    ax.set_xticks(np.arange(0, 0.161, 0.02))
    ax.set_xticklabels(["0", "0.02", "0.04", "0.06", "0.08", "0.1", "0.12", "0.14", "0.16"])
    ax.tick_params(direction="in", length=6, width=0.8, top=True, right=True, labelsize=tick_size)
    ax.tick_params(axis="x", pad=8)
    ax.tick_params(axis="y", pad=6)
    for s in ax.spines.values():
        s.set_linewidth(1.0)
        s.set_color("black")
    ax.set_xlabel("")
    ax.set_ylabel("")

ax1.set_ylim(0, 0.8)
ax1.set_yticks([0, 0.2, 0.4, 0.6, 0.8])
ax1.set_yticklabels(["0", "0.2", "0.4", "0.6", "0.8"])
ax1.set_title("Field Estimation Strehl", fontfamily=serif, fontsize=18.5, pad=9)

ax2.set_ylim(0, 15)
ax2.set_yticks([0, 5, 10, 15])
ax2.set_yticklabels(["0", "5", "10", "15"])
ax2.set_title("IWCL", fontfamily=serif, fontsize=18.5, pad=9)
ax2.set_xlabel("Time [s]", fontfamily=serif, fontsize=16, labelpad=3)
ax2.text(-0.001, 1.025, "x 10", transform=ax2.transAxes, fontsize=tick_size, ha="left", va="bottom")
ax2.text(0.034, 1.058, "8", transform=ax2.transAxes, fontsize=10.5, ha="left", va="bottom")

legend_kw = dict(loc="upper right", frameon=True, fancybox=False, edgecolor="black", framealpha=1,
                 handlelength=3.2, borderpad=0.12, labelspacing=0.0, handletextpad=0.55,
                 borderaxespad=0)
h, l = ax1.get_legend_handles_labels()
ax1.legend(h, l, bbox_to_anchor=(0.9899, 0.9675), prop={"family": serif, "size": 15.8}, **legend_kw)
h, l = ax2.get_legend_handles_labels()
ax2.legend(h, l, bbox_to_anchor=(0.9899, 0.9708), prop={"family": serif, "size": 15.3}, **legend_kw)
for leg in (ax1.get_legend(), ax2.get_legend()):
    leg.get_frame().set_linewidth(1.0)

fig.savefig("out.png", dpi=100)
